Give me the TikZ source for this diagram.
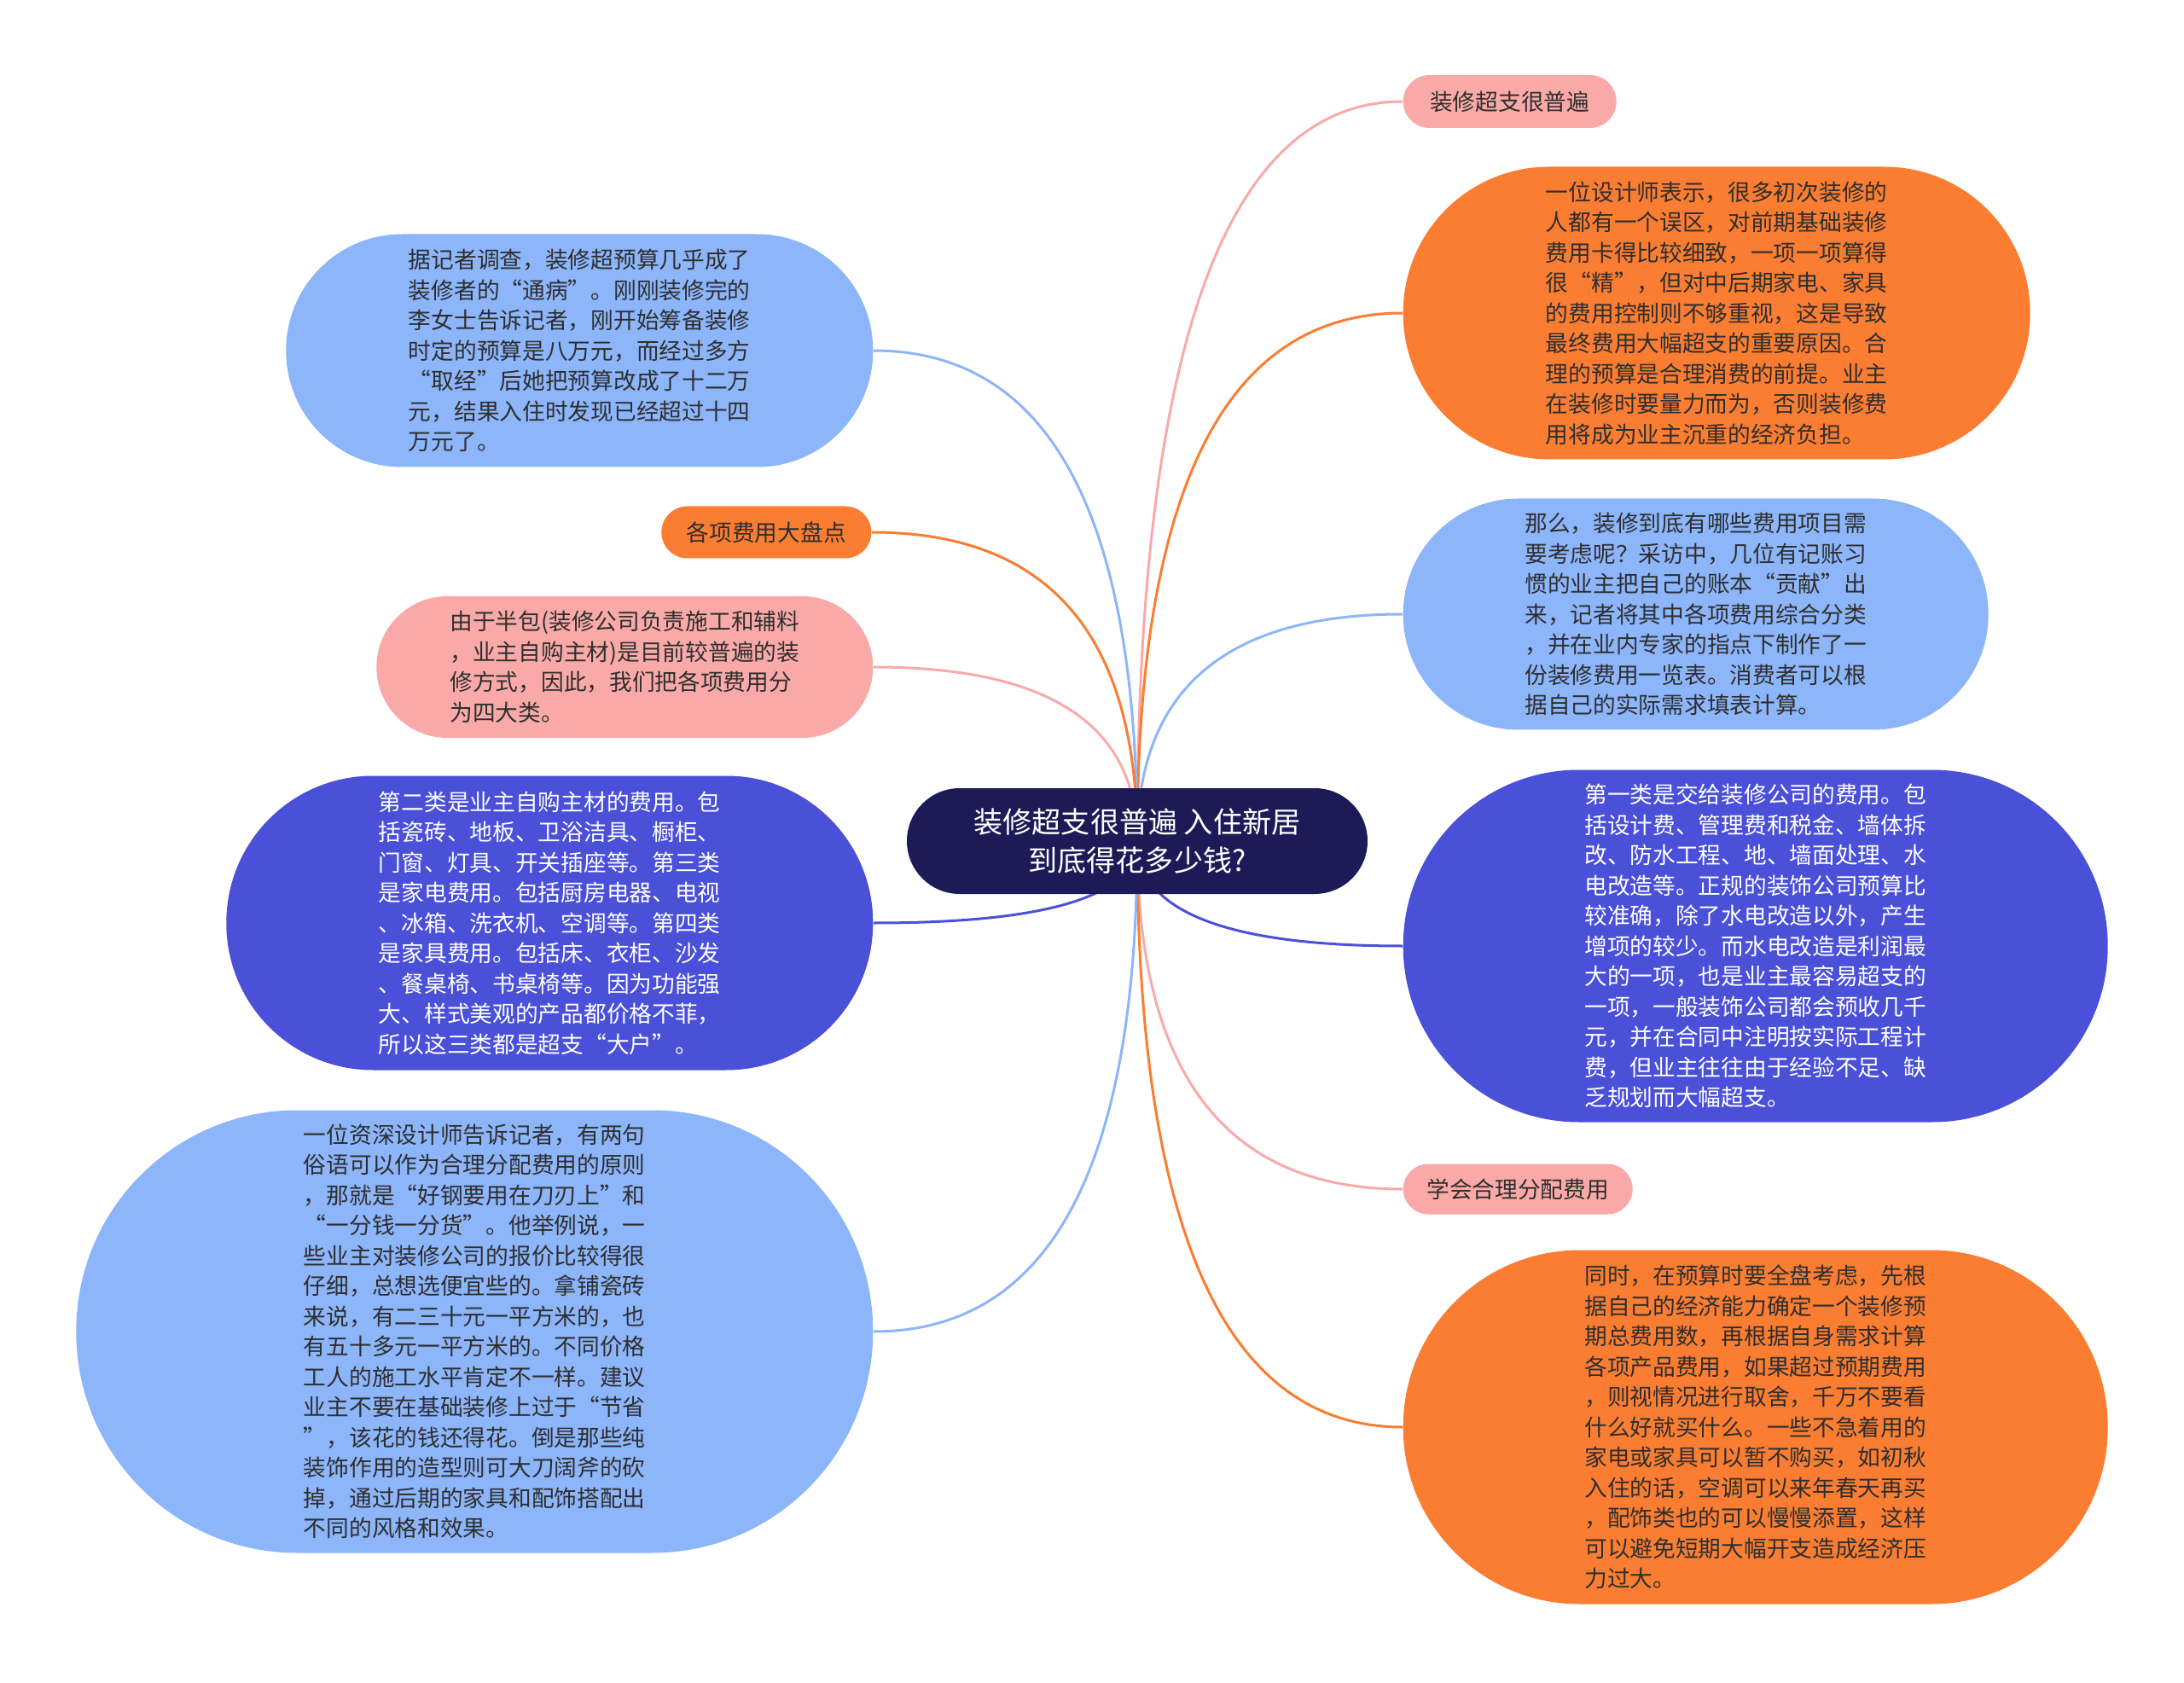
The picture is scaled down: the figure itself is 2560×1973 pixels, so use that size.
\documentclass[tikz,border=0pt]{standalone}
\usepackage{fontspec}
\setmainfont{Noto Sans CJK SC}
\usetikzlibrary{positioning,backgrounds,calc}
\definecolor{rootnavy}{HTML}{1C1B57}
\definecolor{orangefill}{HTML}{FA7D32}
\definecolor{skyfill}{HTML}{8DB5FA}
\definecolor{indigofill}{HTML}{4A50D7}
\definecolor{pinkfill}{HTML}{F9AAA8}
\definecolor{inktext}{HTML}{2E2E2E}

\begin{document}
\begin{tikzpicture}[
  x=0.1mm, y=-0.1mm,
  font=\fontsize{7.6pt}{10.1pt}\selectfont,
  bubble/.style n args={3}{align=left, inner sep=0pt, text=inktext,
    minimum width=#1, minimum height=#2, rounded corners=#3},
  rnode/.style={anchor=west},
  lnode/.style={anchor=east},
  link/.style={line width=0.3mm}
]
\useasboundingbox (0,0) rectangle (2560,1973);
\node[bubble={54mm}{12.4mm}{6.2mm}, fill=rootnavy, text=white, align=center,
  font=\fontsize{9.7pt}{13pt}\selectfont] (root) at (1333,986)
  {装修超支很普遍 入住新居\\到底得花多少钱?};
% right branch
\node[bubble={25mm}{6.2mm}{3.1mm}, fill=pinkfill, rnode] (rtag) at (1644,119) {装修超支很普遍};
\node[bubble={73.5mm}{34.3mm}{17.1mm}, fill=orangefill, rnode] (rcost) at (1644,367)
  {一位设计师表示，很多初次装修的\\人都有一个误区，对前期基础装修\\费用卡得比较细致，一项一项算得\\很“精”，但对中后期家电、家具\\的费用控制则不够重视，这是导致\\最终费用大幅超支的重要原因。合\\理的预算是合理消费的前提。业主\\在装修时要量力而为，否则装修费\\用将成为业主沉重的经济负担。};
\node[bubble={68.6mm}{27.1mm}{13.5mm}, fill=skyfill, rnode] (rlist) at (1644,720)
  {那么，装修到底有哪些费用项目需\\要考虑呢？采访中，几位有记账习\\惯的业主把自己的账本“贡献”出\\来，记者将其中各项费用综合分类\\，并在业内专家的指点下制作了一\\份装修费用一览表。消费者可以根\\据自己的实际需求填表计算。};
\node[bubble={82.6mm}{41.3mm}{20.6mm}, fill=indigofill, text=white, rnode] (rfirst) at (1644,1109)
  {第一类是交给装修公司的费用。包\\括设计费、管理费和税金、墙体拆\\改、防水工程、地、墙面处理、水\\电改造等。正规的装饰公司预算比\\较准确，除了水电改造以外，产生\\增项的较少。而水电改造是利润最\\大的一项，也是业主最容易超支的\\一项，一般装饰公司都会预收几千\\元，并在合同中注明按实际工程计\\费，但业主往往由于经验不足、缺\\乏规划而大幅超支。};
\node[bubble={26.9mm}{5.9mm}{2.95mm}, fill=pinkfill, rnode] (rtip) at (1644,1394) {学会合理分配费用};
\node[bubble={82.6mm}{41.5mm}{20.7mm}, fill=orangefill, rnode] (rplan) at (1644,1673)
  {同时，在预算时要全盘考虑，先根\\据自己的经济能力确定一个装修预\\期总费用数，再根据自身需求计算\\各项产品费用，如果超过预期费用\\，则视情况进行取舍，千万不要看\\什么好就买什么。一些不急着用的\\家电或家具可以暂不购买，如初秋\\入住的话，空调可以来年春天再买\\，配饰类也的可以慢慢添置，这样\\可以避免短期大幅开支造成经济压\\力过大。};
% left branch
\node[bubble={68.8mm}{27.3mm}{13.6mm}, fill=skyfill, lnode] (lsurvey) at (1024,411)
  {据记者调查，装修超预算几乎成了\\装修者的“通病”。刚刚装修完的\\李女士告诉记者，刚开始筹备装修\\时定的预算是八万元，而经过多方\\“取经”后她把预算改成了十二万\\元，结果入住时发现已经超过十四\\万元了。};
\node[bubble={24.6mm}{6.1mm}{3.05mm}, fill=orangefill, lnode] (ltag) at (1022,624) {各项费用大盘点};
\node[bubble={58.2mm}{16.6mm}{8.3mm}, fill=pinkfill, lnode] (lhalf) at (1024,782)
  {由于半包(装修公司负责施工和辅料\\，业主自购主材)是目前较普遍的装\\修方式，因此，我们把各项费用分\\为四大类。};
\node[bubble={75.8mm}{34.5mm}{17.2mm}, fill=indigofill, text=white, lnode] (lsecond) at (1024,1082)
  {第二类是业主自购主材的费用。包\\括瓷砖、地板、卫浴洁具、橱柜、\\门窗、灯具、开关插座等。第三类\\是家电费用。包括厨房电器、电视\\、冰箱、洗衣机、空调等。第四类\\是家具费用。包括床、衣柜、沙发\\、餐桌椅、书桌椅等。因为功能强\\大、样式美观的产品都价格不菲，\\所以这三类都是超支“大户”。};
\node[bubble={93.4mm}{51.9mm}{25.9mm}, fill=skyfill, lnode] (ladvice) at (1024,1561)
  {一位资深设计师告诉记者，有两句\\俗语可以作为合理分配费用的原则\\，那就是“好钢要用在刀刃上”和\\“一分钱一分货”。他举例说，一\\些业主对装修公司的报价比较得很\\仔细，总想选便宜些的。拿铺瓷砖\\来说，有二三十元一平方米的，也\\有五十多元一平方米的。不同价格\\工人的施工水平肯定不一样。建议\\业主不要在基础装修上过于“节省\\”，该花的钱还得花。倒是那些纯\\装饰作用的造型则可大刀阔斧的砍\\掉，通过后期的家具和配饰搭配出\\不同的风格和效果。};
\begin{scope}[on background layer]
\foreach \n/\c in {rtag/pinkfill, rcost/orangefill, rlist/skyfill, rfirst/indigofill, rtip/pinkfill, rplan/orangefill}
  \draw[link, \c] (root.center)
    .. controls ($(root.center)!0.667!(root.center |- \n.west)$)
    and ($(\n.west)!0.667!(root.center |- \n.west)$) .. (\n.west);
\foreach \n/\c in {lsurvey/skyfill, ltag/orangefill, lhalf/pinkfill, lsecond/indigofill, ladvice/skyfill}
  \draw[link, \c] (root.center)
    .. controls ($(root.center)!0.667!(root.center |- \n.east)$)
    and ($(\n.east)!0.667!(root.center |- \n.east)$) .. (\n.east);
\end{scope}
\end{tikzpicture}
\end{document}
